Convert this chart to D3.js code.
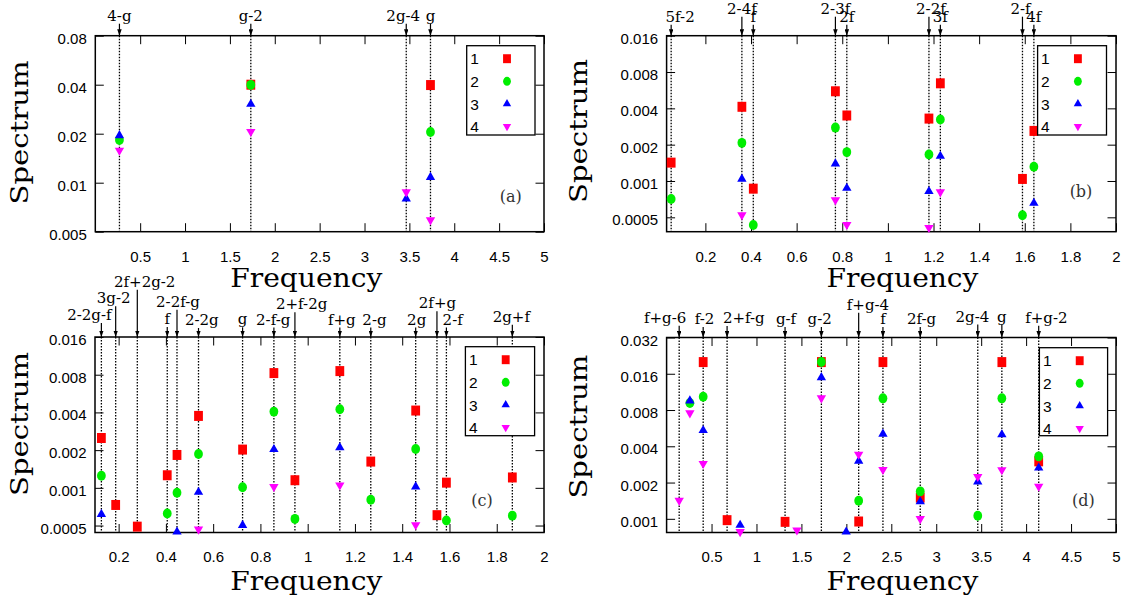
<!DOCTYPE html>
<meta charset="utf-8">
<title>Spectrum peaks</title>
<style>
  body { margin: 0; background: #fff; }
  .mark { font-family: "DejaVu Serif", serif; font-size: 15px; }
  .ttl { font-family: "DejaVu Serif", serif; }
  .leg { font-family: "Liberation Sans", Arial, sans-serif; font-size: 15.5px; }
</style>
<body>
<script src="https://cdn.jsdelivr.net/npm/d3@7"></script>
<script>
//==================================================================
// data (frequency, spectrum value per series)
var seriesNames = ["1", "2", "3", "4"];
var seriesColors = ["#ff0000", "#00ee00", "#0000ff", "#ff00ff"];

var xTicks5 = [0.5, 1, 1.5, 2, 2.5, 3, 3.5, 4, 4.5, 5];
var xTicks2 = [0.2, 0.4, 0.6, 0.8, 1, 1.2, 1.4, 1.6, 1.8, 2];
var yTicksA = [0.005, 0.01, 0.02, 0.04, 0.08];
var yTicksB = [0.0005, 0.001, 0.002, 0.004, 0.008, 0.016];
var yTicksD = [0.001, 0.002, 0.004, 0.008, 0.016, 0.032];

// (a)
var aX  = [0.269, 1.733, 3.465, 3.735];
var aS1 = [null, 0.040, null, 0.0398];
var aS2 = [0.0183, 0.0399, null, 0.0205];
var aS3 = [0.0195, 0.0304, 0.00797, 0.0108];
var aS4 = [0.0158, 0.0206, 0.00877, 0.0059];
var aMarks = ["4-g", "g-2", "2g-4", "g"];
var aMarkX = [0.269, 1.733, 3.465, 3.735];

// (b)
var bX  = [0.05, 0.36, 0.41, 0.77, 0.82, 1.18, 1.23, 1.59, 1.64];
var bS1 = [0.00142, 0.00412, 0.000864, 0.00554, 0.00349, 0.00329, 0.00645, 0.00104, 0.0026];
var bS2 = [0.000709, 0.00207, 0.000432, 0.00277, 0.001735, 0.00166, 0.00323, 0.00052, 0.00131];
var bS3 = [null, 0.00104, null, 0.00139, 0.000874, 0.00082, 0.00161, null, 0.000656];
var bS4 = [null, 0.000522, null, 0.000696, 0.000435, 0.000411, 0.00081, null, null];
var bMarks = ["5f-2", "2-4f", "f", "2-3f", "2f", "2-2f", "3f", "2-f", "4f"];
var bMarkX = [0.05, 0.36, 0.41, 0.77, 0.82, 1.18, 1.23, 1.59, 1.64];

// (c)
var cX  = [0.127, 0.1875, 0.279, 0.4057, 0.447, 0.538, 0.7245, 0.857, 0.946, 1.136, 1.267, 1.457, 1.547, 1.587, 1.866];
var cS1 = [0.0025, 0.00073, 0.00049, 0.00126, 0.00183, 0.00375, 0.00202, 0.00824, 0.00115, 0.00855, 0.00162, 0.00414, 0.000605, 0.0011, 0.00121];
var cS2 = [0.00125, null, null, 0.000624, 0.000913, 0.00186, 0.00101, 0.00406, 0.000565, 0.00424, 0.000803, 0.00204, null, 0.000548, 0.0006];
var cS3 = [0.000616, null, null, null, 0.000445, 0.000925, 0.000503, 0.00203, null, 0.0021, null, 0.00102, null, null, null];
var cS4 = [null, null, null, null, null, 0.000467, null, 0.00102, null, 0.00105, null, 0.000506, null, null, null];
var cMarks = ["2-2g-f", "3g-2", "2f+2g-2", "f", "2-2f-g", "2-2g", "g", "2-f-g", "2+f-2g", "f+g", "2-g", "2g", "2f+g", "2-f", "2g+f"];
var cMarkX = [0.127, 0.1875, 0.279, 0.4057, 0.447, 0.538, 0.7245, 0.857, 0.946, 1.136, 1.267, 1.457, 1.547, 1.587, 1.866];

// (d)
var dX  = [0.14, 0.259, 0.407, 0.673, 0.818, 1.318, 1.45, 1.722, 1.998, 2.137, 2.407, 2.822, 3.462, 3.73, 4.14];
var dS1 = [null, null, 0.02, 0.000975, null, 0.000944, null, 0.02, null, 0.00095, 0.02, 0.0015, null, 0.02, 0.003];
var dS2 = [null, 0.00914, 0.0103, null, null, null, null, 0.02, null, 0.00141, 0.01, 0.00169, 0.00106, 0.01, 0.0033];
var dS3 = [null, 0.00956, 0.00542, null, 0.000886, null, null, 0.0149, 0.00078, 0.00302, 0.00506, 0.00139, 0.00203, 0.005, 0.00265];
var dS4 = [0.00142, 0.00755, 0.00287, null, 0.00078, null, 0.000806, 0.01006, null, 0.00343, 0.00256, 0.001, 0.00224, 0.00255, 0.00186];
var dMarks = ["f+g-6", "f-2", "2+f-g", "g-f", "g-2", "f+g-4", "f", "2f-g", "2g-4", "g", "f+g-2"];
var dMarkX = [0.14, 0.407, 0.673, 1.318, 1.722, 2.137, 2.407, 2.822, 3.462, 3.73, 4.14];

//==================================================================
// layout: label nudges [dx, height of baseline above the frame]
var aLay = [[0,15],[0,15],[-3,15],[0,15]];
var bLay = [[9,14],[0,22],[0,14],[0,22],[0,14],[2,22],[0,14],[-2,22],[0,14]];
var cLay = [[-12,17],[-2,33.7],[7.4,50.3],[0,13],[1,30.3],[3.3,12],[0,12.7],[-0.7,12.5],[6.7,27.7],[2,12.5],[3.7,12.5],[1,12.5],[0.5,28.7],[6.3,12.5],[-1,15.3]];
var dLay = [[-14,14.7],[1.4,13.4],[16.7,14.4],[1,13.4],[-1.7,13.4],[9.3,27.7],[0,13.4],[1.3,13.4],[-5.3,16],[0,16],[7.7,14.7]];

var panels = [
  {xs: aX, ys: [aS1,aS2,aS3,aS4], marks: aMarks, markX: aMarkX, lay: aLay,
   xTicks: xTicks5, yTicks: yTicksA, xDom: [0,5], yDom: [0.005,0.08],
   box: [95.3,544,35.7,231.7], legend: [466.7,535,45.7,135],
   tag: "(a)", tagPos: [510.7,201.5], xlab: [306.3,287.3], ylab: [28.3,132.5]},
  {xs: bX, ys: [bS1,bS2,bS3,bS4], marks: bMarks, markX: bMarkX, lay: bLay,
   xTicks: xTicks2, yTicks: yTicksB, xDom: [0.03,2], yDom: [0.00038,0.016],
   box: [666.6,1116,35.7,231.7], legend: [1037.6,1106.5,45.7,135],
   tag: "(b)", tagPos: [1081,197], xlab: [902.5,287.3], ylab: [586.6,131]},
  {xs: cX, ys: [cS1,cS2,cS3,cS4], marks: cMarks, markX: cMarkX, lay: cLay,
   xTicks: xTicks2, yTicks: yTicksB, xDom: [0.1,2], yDom: [0.00044,0.016],
   box: [95,544,337,532.5], legend: [465.4,534.6,346.7,435.7],
   tag: "(c)", tagPos: [482,505.5], xlab: [306.3,589.5], ylab: [28.3,424]},
  {xs: dX, ys: [dS1,dS2,dS3,dS4], marks: dMarks, markX: dMarkX, lay: dLay,
   xTicks: xTicks5, yTicks: yTicksD, xDom: [0,5], yDom: [0.00077,0.032],
   box: [666.6,1116,337.5,532.5], legend: [1039.4,1107.6,347.7,435.7],
   tag: "(d)", tagPos: [1083.3,505.5], xlab: [902.5,589.5], ylab: [586.6,426.6]}
];

var width = 1123, height = 606;
var squeeze = 0.88;   // the source picture is a little narrower than tall

var symbols = [
  {type: d3.symbolSquare, size: 100, tf: "scale(" + squeeze + ",1)"},
  {type: d3.symbolCircle, size: 78, tf: "scale(" + squeeze + ",1)"},
  {type: d3.symbolTriangle, size: 38, tf: ""},
  {type: d3.symbolTriangle, size: 38, tf: "rotate(180)"}
];

var svg = d3.select("body").append("svg")
    .attr("width", width)
    .attr("height", height)
    .style("display", "block");

svg.append("defs").append("marker")
    .attr("id", "ah")
    .attr("viewBox", "0 0 10 10")
    .attr("refX", 10).attr("refY", 5)
    .attr("markerWidth", 6.5).attr("markerHeight", 4.5)
    .attr("markerUnits", "userSpaceOnUse")
    .attr("preserveAspectRatio", "none")
    .attr("orient", "auto")
  .append("path")
    .attr("d", "M0,0L10,5L0,10z")
    .attr("fill", "#000");

function styleAxis(a) {
  a.select(".domain").remove();
  a.attr("font-family", "'Liberation Sans', Arial, sans-serif").attr("font-size", 15);
}

panels.forEach(function(p) {
  var L = p.box[0], R = p.box[1], T = p.box[2], B = p.box[3];
  var x = d3.scaleLinear().domain(p.xDom).range([L, R]);
  var y = d3.scaleLog().domain(p.yDom).range([B, T]);
  var g = svg.append("g");

  // dotted guide lines
  g.selectAll(".guide").data(p.markX).join("line")
      .attr("class", "guide")
      .attr("x1", function(d) { return x(d); })
      .attr("x2", function(d) { return x(d); })
      .attr("y1", T).attr("y2", B)
      .attr("stroke", "#000").attr("stroke-width", 1.3)
      .attr("stroke-dasharray", "1.5,1.5");

  // arrows + labels over the frame
  p.markX.forEach(function(f, i) {
    var base = T - p.lay[i][1];
    g.append("line")
        .attr("x1", x(f)).attr("x2", x(f))
        .attr("y1", base + 3).attr("y2", T)
        .attr("stroke", "#000").attr("stroke-width", 1.2)
        .attr("marker-end", "url(#ah)");
    g.append("text")
        .attr("class", "mark")
        .attr("x", x(f) + p.lay[i][0])
        .attr("y", base)
        .attr("text-anchor", "middle")
        .text(p.marks[i]);
  });

  // axes, ticks inward on all four sides
  g.append("g").attr("transform", "translate(0," + B + ")")
      .call(d3.axisBottom(x).tickValues(p.xTicks).tickFormat(String)
            .tickSizeInner(-8.5).tickSizeOuter(0).tickPadding(19.3))
      .call(styleAxis);
  g.append("g").attr("transform", "translate(0," + T + ")")
      .call(d3.axisTop(x).tickValues(p.xTicks).tickFormat("")
            .tickSizeInner(-8.5).tickSizeOuter(0))
      .call(styleAxis);
  g.append("g").attr("transform", "translate(" + L + ",0)")
      .call(d3.axisLeft(y).tickValues(p.yTicks).tickFormat(String)
            .tickSizeInner(-8.5).tickSizeOuter(0).tickPadding(8.5))
      .call(styleAxis)
      .selectAll("text").attr("dy", "0.5em");
  g.append("g").attr("transform", "translate(" + R + ",0)")
      .call(d3.axisRight(y).tickValues(p.yTicks).tickFormat("")
            .tickSizeInner(-8.5).tickSizeOuter(0))
      .call(styleAxis);

  g.append("rect")
      .attr("x", L).attr("y", T)
      .attr("width", R - L).attr("height", B - T)
      .attr("fill", "none").attr("stroke", "#000").attr("stroke-width", 1.5);

  // points
  p.ys.forEach(function(s, k) {
    var pts = p.xs.map(function(xv, i) { return [xv, s[i]]; })
                  .filter(function(d) { return d[1] != null; });
    g.selectAll(null).data(pts).join("path")
        .attr("d", d3.symbol().type(symbols[k].type).size(symbols[k].size)())
        .attr("transform", function(d) {
          return "translate(" + x(d[0]) + "," + y(d[1]) + ") " + symbols[k].tf;
        })
        .attr("fill", seriesColors[k]);
  });

  // legend
  var lg = p.legend;
  g.append("rect")
      .attr("x", lg[0]).attr("y", lg[2])
      .attr("width", lg[1] - lg[0]).attr("height", lg[3] - lg[2])
      .attr("fill", "#fff").attr("stroke", "#000").attr("stroke-width", 1.3);
  seriesNames.forEach(function(name, k) {
    var cy = lg[2] + 13 + k * 22.6;
    g.append("text")
        .attr("class", "leg")
        .attr("x", lg[0] + 3.5).attr("y", cy + 5.6)
        .text(name);
    g.append("path")
        .attr("d", d3.symbol().type(symbols[k].type).size(symbols[k].size * 0.8)())
        .attr("transform", "translate(" + (lg[0] + 40.3) + "," + cy + ") " + symbols[k].tf)
        .attr("fill", seriesColors[k]);
  });

  // panel tag
  g.append("text")
      .attr("class", "ttl")
      .attr("x", p.tagPos[0]).attr("y", p.tagPos[1])
      .attr("text-anchor", "middle")
      .attr("font-size", 16)
      .attr("fill", "#333")
      .text(p.tag);

  // axis titles
  g.append("text")
      .attr("class", "ttl")
      .attr("x", p.xlab[0] - 76).attr("y", p.xlab[1])
      .attr("font-size", 26)
      .attr("textLength", 152).attr("lengthAdjust", "spacingAndGlyphs")
      .text("Frequency");
  g.append("text")
      .attr("class", "ttl")
      .attr("transform", "translate(" + p.ylab[0] + "," + (p.ylab[1] + 72) + ") rotate(-90)")
      .attr("font-size", 25)
      .attr("textLength", 144).attr("lengthAdjust", "spacingAndGlyphs")
      .text("Spectrum");
});
</script>
